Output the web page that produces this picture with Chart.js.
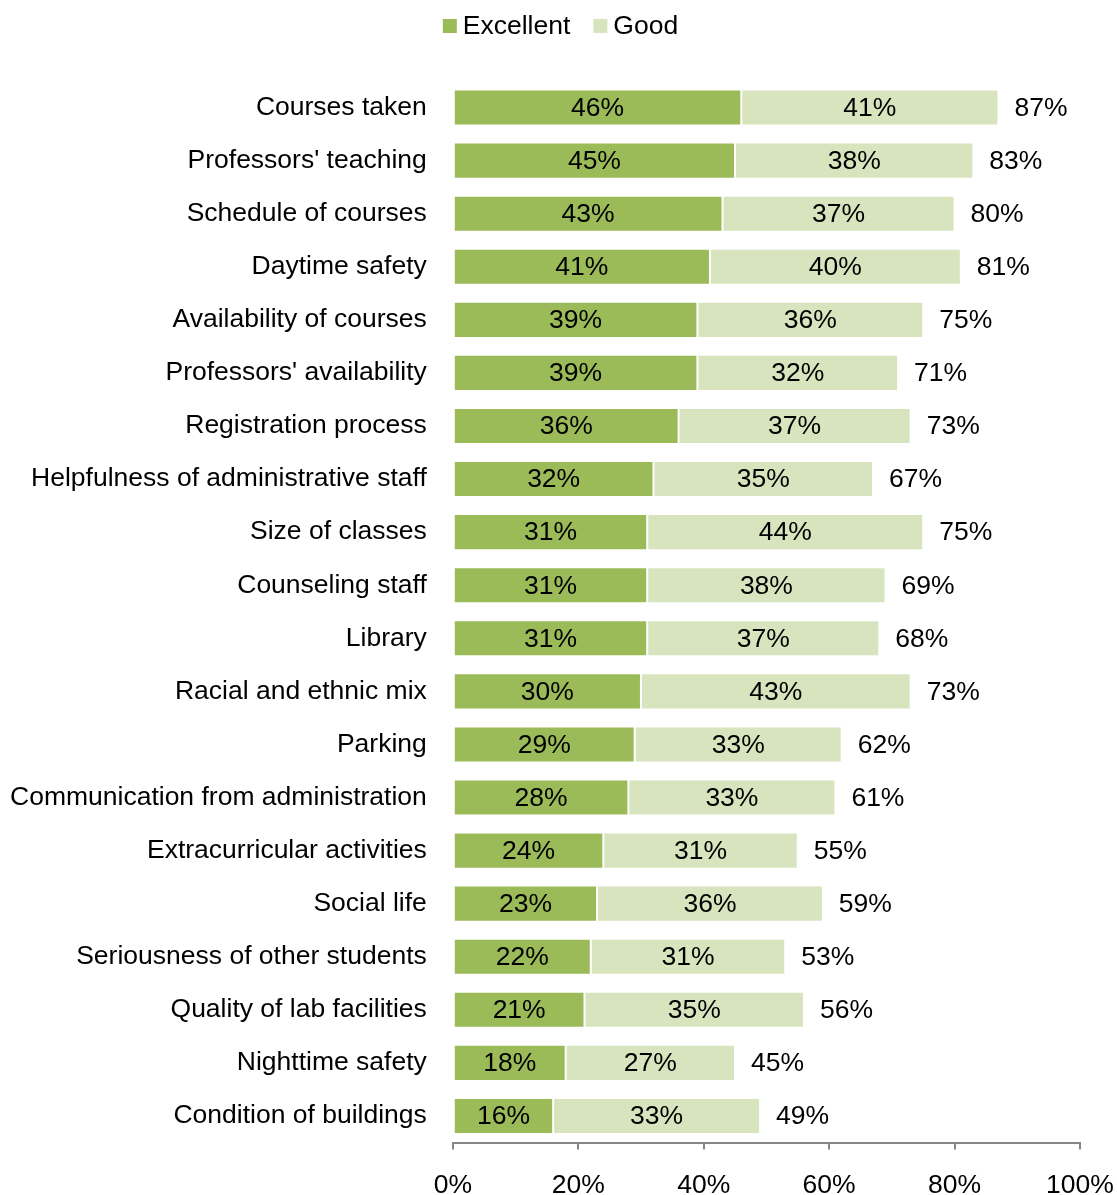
<!DOCTYPE html>
<html>
<head>
<meta charset="utf-8">
<script src="https://cdn.jsdelivr.net/npm/chart.js@4.4.1/dist/chart.umd.min.js"></script>
<style>
  body { margin: 0; background: #fff; }
  canvas { display: block; }
</style>
</head>
<body>
<canvas id="canvas" width="1117" height="1195"></canvas>
<script>
let categories = [
  'Courses taken', "Professors' teaching", 'Schedule of courses', 'Daytime safety',
  'Availability of courses', "Professors' availability", 'Registration process',
  'Helpfulness of administrative staff', 'Size of classes', 'Counseling staff',
  'Library', 'Racial and ethnic mix', 'Parking', 'Communication from administration',
  'Extracurricular activities', 'Social life', 'Seriousness of other students',
  'Quality of lab facilities', 'Nighttime safety', 'Condition of buildings'
];
let excellent = [46, 45, 43, 41, 39, 39, 36, 32, 31, 31, 31, 30, 29, 28, 24, 23, 22, 21, 18, 16];
let good      = [41, 38, 37, 40, 36, 32, 37, 35, 44, 38, 37, 43, 33, 33, 31, 36, 31, 35, 27, 33];
let totals    = [87, 83, 80, 81, 75, 71, 73, 67, 75, 69, 68, 73, 62, 61, 55, 59, 53, 56, 45, 49];
let xTicks = [0, 20, 40, 60, 80, 100];

const FONT = "'Liberation Sans', Arial, sans-serif";
const SIZE = 26.5;

// legend drawn by hand: small square, short gap, label
let topLegend = {
  id: 'topLegend',
  afterDraw(chart) {
    let ctx = chart.ctx;
    ctx.save();
    ctx.font = SIZE + 'px ' + FONT;
    ctx.textBaseline = 'middle';
    ctx.textAlign = 'left';
    let box = 14, gap = 6, spacing = 23, cy = 26;
    let items = chart.data.datasets.map(ds => ({
      text: ds.label, color: ds.backgroundColor, w: box + gap + ctx.measureText(ds.label).width
    }));
    let total = items.reduce((s, it) => s + it.w, 0) + spacing * (items.length - 1);
    let x = (chart.width - total) / 2 + 2;
    items.forEach(it => {
      ctx.fillStyle = it.color;
      ctx.fillRect(x, cy - box / 2, box, box);
      ctx.fillStyle = '#000';
      ctx.fillText(it.text, x + box + gap, cy + 1);
      x += it.w + spacing;
    });
    ctx.restore();
  }
};

// segment values inside the bars, totals past the end
let barLabels = {
  id: 'barLabels',
  afterDatasetsDraw(chart) {
    let ctx = chart.ctx;
    ctx.save();
    ctx.font = SIZE + 'px ' + FONT;
    ctx.fillStyle = '#000';
    ctx.textBaseline = 'middle';
    chart.data.datasets.forEach((ds, i) => {
      let meta = chart.getDatasetMeta(i);
      ctx.textAlign = 'center';
      meta.data.forEach((bar, j) => {
        ctx.fillText(ds.data[j] + '%', (bar.x + bar.base) / 2, bar.y + 1);
      });
    });
    let last = chart.getDatasetMeta(chart.data.datasets.length - 1);
    ctx.textAlign = 'left';
    last.data.forEach((bar, j) => {
      ctx.fillText(totals[j] + '%', bar.x + 16, bar.y + 1);
    });
    ctx.restore();
  }
};

let ctx = document.getElementById('canvas').getContext('2d');
let chart = new Chart(ctx, {
  type: 'bar',
  data: {
    labels: categories,
    datasets: [{
      label: 'Excellent',
      data: excellent,
      backgroundColor: '#9BBB59',
      borderColor: 'rgba(255,255,255,0.45)',
      borderWidth: 1,
      borderSkipped: false
    }, {
      label: 'Good',
      data: good,
      backgroundColor: '#D7E4BD',
      borderColor: 'rgba(255,255,255,0.45)',
      borderWidth: 1,
      borderSkipped: false
    }]
  },
  options: {
    responsive: false,
    animation: false,
    indexAxis: 'y',
    barPercentage: 0.68,
    categoryPercentage: 1,
    layout: { padding: { left: -16, right: 37, top: 81, bottom: -27 } },
    plugins: {
      legend: { display: false },
      tooltip: { enabled: false }
    },
    scales: {
      x: {
        stacked: true,
        min: 0,
        max: 100,
        afterBuildTicks(axis) {
          axis.ticks = xTicks.map(v => ({ value: v }));
        },
        afterFit(axis) {
          // let the outer padding decide where the plot ends
          axis.paddingLeft = 0;
          axis.paddingRight = 0;
        },
        grid: {
          drawOnChartArea: false,
          drawTicks: true,
          tickLength: 7,
          color: '#868686',
          lineWidth: 2
        },
        border: { color: '#868686', width: 2 },
        ticks: {
          font: { family: FONT, size: SIZE, lineHeight: 1 },
          color: '#000',
          padding: 23,
          maxRotation: 0,
          callback: v => v + '%'
        }
      },
      y: {
        stacked: true,
        grid: { display: false, drawTicks: false },
        border: { display: false },
        ticks: {
          font: { family: FONT, size: SIZE },
          color: '#000',
          padding: 26
        }
      }
    }
  },
  plugins: [barLabels, topLegend]
});
</script>
</body>
</html>
